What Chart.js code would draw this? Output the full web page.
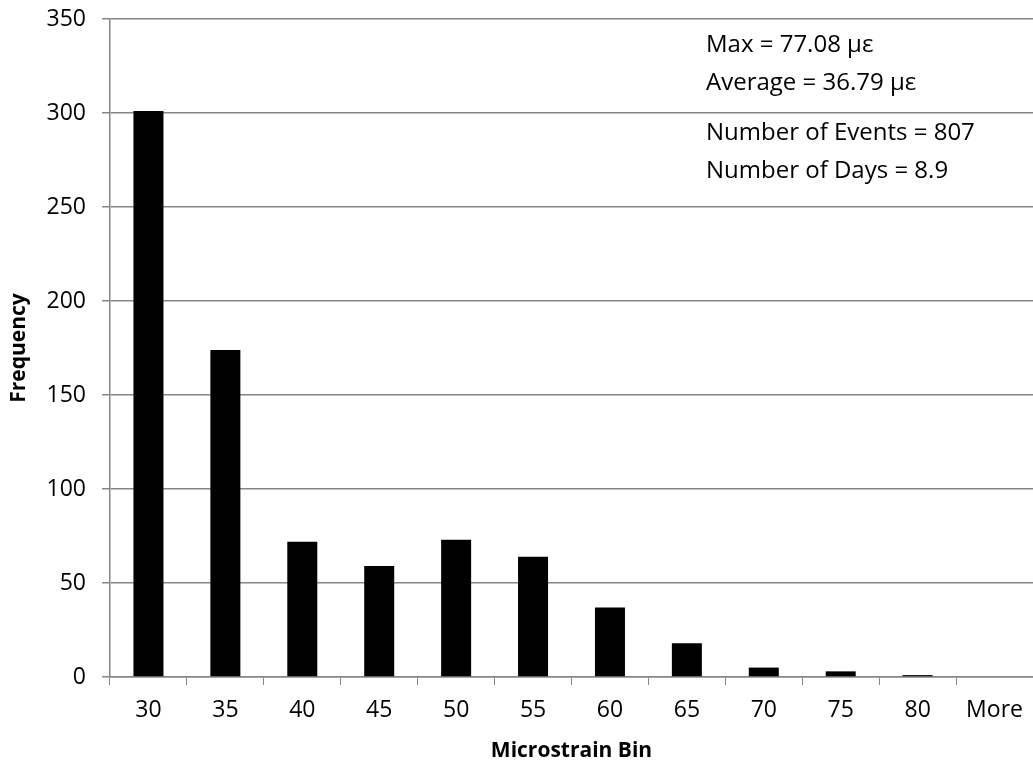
<!DOCTYPE html>
<html>
<head>
<meta charset="utf-8">
<script src="https://cdn.jsdelivr.net/npm/chart.js@4"></script>
<style>
  html,body{margin:0;padding:0;background:#fff;}
  #wrap{width:1033px;height:766px;position:relative;}
</style>
</head>
<body>
<div id="wrap"><canvas id="c"></canvas></div>
<script>
// Datos del histograma
const bins = ['30','35','40','45','50','55','60','65','70','75','80','More'];
const frequency = [301,174,72,59,73,64,37,18,5,3,1,0];
const yTicks = [0,50,100,150,200,250,300,350];
const notes = ['Max = 77.08 \u03bc\u03b5','Average = 36.79 \u03bc\u03b5','Number of Events = 807','Number of Days = 8.9'];

const FONT = "'Open Sans', 'Liberation Sans', sans-serif";
const FS = 23;
const GRID = '#868686';

// cuadro de texto con estadisticas
const notesPlugin = {
  id:'notes',
  afterDraw(chart){
    const ctx = chart.ctx;
    ctx.save();
    ctx.font = `24px ${FONT}`;
    ctx.fillStyle = '#000';
    ctx.textBaseline = 'middle';
    const ys = [45, 83, 133, 171];
    notes.forEach((t,i)=>ctx.fillText(t, 706, ys[i]));
    ctx.restore();
  }
};

new Chart(document.getElementById('c'), {
  type:'bar',
  data:{
    labels: bins,
    datasets:[{
      label:'Frequency',
      data: frequency,
      backgroundColor:'#000',
      borderWidth:0,
      barPercentage:1,
      categoryPercentage:0.39
    }]
  },
  options:{
    responsive:true,
    maintainAspectRatio:false,
    animation:false,
    layout:{padding:{top:19,right:0,left:0,bottom:0}},
    plugins:{legend:{display:false},tooltip:{enabled:false}},
    scales:{
      x:{
        offset:true,
        grid:{offset:true,drawOnChartArea:false,color:GRID,tickLength:8,tickColor:GRID},
        border:{color:GRID,width:1.5},
        ticks:{color:'#000',font:{family:FONT,size:FS},padding:12,maxRotation:0,autoSkip:false},
        title:{display:true,text:'Microstrain Bin',color:'#000',font:{family:FONT,size:FS-2,weight:'bold'},padding:{top:4,bottom:2}},
        afterFit(s){ s.height = 89; s.paddingLeft = 0; s.paddingRight = 0; }
      },
      y:{
        min:0,max:350,
        afterBuildTicks(s){ s.ticks = yTicks.map(v=>({value:v})); },
        grid:{color:GRID,lineWidth:1.5,tickLength:8,tickColor:GRID},
        border:{color:GRID,width:1.5},
        ticks:{color:'#000',font:{family:FONT,size:FS},padding:16},
        title:{display:true,text:'Frequency',color:'#000',font:{family:FONT,size:FS-2,weight:'bold'},padding:{top:6,bottom:0}},
        afterFit(s){ s.width = 110; s.paddingTop = 0; s.paddingBottom = 0; }
      }
    }
  },
  plugins:[notesPlugin]
});
</script>
</body>
</html>
